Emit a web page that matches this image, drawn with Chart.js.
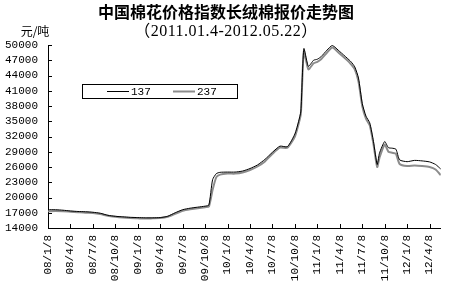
<!DOCTYPE html>
<html>
<head>
<meta charset="utf-8">
<script src="https://cdn.jsdelivr.net/npm/chart.js@4/dist/chart.umd.min.js"></script>
<style>
  html, body { margin: 0; padding: 0; background: #fff; }
  #wrap { width: 450px; height: 292px; position: relative; }
</style>
</head>
<body>
<div id="wrap"><canvas id="cotton"></canvas></div>
<script>
// 刻度标签（每季度一个）
const tickLabels = ['08/1/8', '08/4/8', '08/7/8', '08/10/8', '09/1/8', '09/4/8', '09/7/8', '09/10/8',
    '10/1/8', '10/4/8', '10/7/8', '10/10/8', '11/1/8', '11/4/8', '11/7/8', '11/10/8', '12/1/8', '12/4/8'];

// 自 08/1/8 起的月数
const months = [0, 1, 2, 3, 4, 5, 6, 7, 8, 9, 10, 11, 12, 13, 14, 15, 16, 17, 18, 19, 20, 21,
    21.5, 22, 22.5, 23, 24, 25, 26, 27, 28, 29, 30, 31, 32, 33,
    33.5, 33.8, 34.2, 34.8, 35.5, 36, 36.5, 37.3, 38,
    39, 40, 40.5, 41, 41.5, 42, 42.5, 43, 43.5, 44, 44.3,
    45, 45.5, 46, 46.5, 47, 48, 49, 50, 51, 51.8, 52.5];

const s137 = [17600, 17600, 17500, 17350, 17250, 17200, 17100, 16900, 16500, 16300, 16200, 16100, 16050, 16000, 16000, 16050, 16300, 17000, 17600, 17900, 18100, 18300,
    18500, 23500, 24700, 24950, 25000, 25000, 25200, 25700, 26400, 27500, 28900, 30100, 30000, 32500,
    35000, 37000, 49300, 45800, 47000, 47200, 47700, 49000, 49900,
    48700, 47400, 46700, 45700, 43500, 38500, 36000, 34700, 31000, 26500, 28700,
    31000, 29800, 29700, 29500, 27400, 27050, 27300, 27200, 27000, 26500, 25600];

const s237 = [17300, 17350, 17300, 17200, 17100, 17000, 16950, 16750, 16400, 16200, 16050, 15950, 15900, 15850, 15900, 15950, 16200, 16800, 17400, 17700, 17900, 18100,
    18200, 21500, 24000, 24500, 24700, 24700, 24900, 25400, 26100, 27100, 28600, 29800, 29800, 32000,
    34500, 36500, 48800, 45200, 46400, 46700, 47200, 48500, 49500,
    48300, 47000, 46200, 45200, 42800, 38000, 35500, 34200, 30500, 26000, 27800,
    30400, 29000, 28800, 28600, 26600, 26200, 26300, 26200, 26000, 25500, 24400];

const labelFont = "'Liberation Mono', monospace";
const cjkFont = "'Noto Sans CJK SC', sans-serif";

// 标题、单位、图例、内向刻度
const decor = {
    id: 'decor',
    afterDraw(chart) {
        const ctx = chart.ctx;
        const a = chart.chartArea;
        const { x, y } = chart.scales;
        ctx.save();

        // 内向刻度线
        ctx.strokeStyle = '#000';
        ctx.lineWidth = 1;
        ctx.beginPath();
        y.ticks.forEach((t, i) => {
            const py = Math.round(y.getPixelForTick(i)) + 0.5;
            ctx.moveTo(a.left, py);
            ctx.lineTo(a.left + 4, py);
        });
        x.ticks.forEach((t, i) => {
            const px = Math.round(x.getPixelForTick(i)) + 0.5;
            ctx.moveTo(px, a.bottom);
            ctx.lineTo(px, a.bottom - 4);
        });
        ctx.stroke();

        // 标题
        ctx.fillStyle = '#000';
        ctx.textAlign = 'center';
        ctx.textBaseline = 'middle';
        ctx.font = 'bold 16px ' + cjkFont;
        ctx.fillText('中国棉花价格指数长绒棉报价走势图', 226, 12);
        ctx.font = "16px 'Liberation Serif', " + cjkFont;
        ctx.letterSpacing = '0.5px';
        ctx.fillText('（2011.01.4-2012.05.22）', 226, 32);
        ctx.letterSpacing = '0px';

        ctx.font = '12px ' + cjkFont;
        ctx.fillText('元/吨', 35, 31);

        // 图例
        ctx.strokeStyle = '#000';
        ctx.strokeRect(82.5, 84.5, 155, 14);
        ctx.font = '11px ' + labelFont;
        ctx.textAlign = 'left';
        const items = [[107, chart.data.datasets[0]], [173, chart.data.datasets[1]]];
        items.forEach(([lx, ds]) => {
            ctx.strokeStyle = ds.borderColor;
            ctx.lineWidth = ds.borderWidth;
            ctx.beginPath();
            ctx.moveTo(lx, 91.5);
            ctx.lineTo(lx + 22, 91.5);
            ctx.stroke();
            ctx.fillStyle = '#000';
            ctx.fillText(ds.label, lx + 24, 92);
        });
        ctx.restore();
    }
};

new Chart(document.getElementById('cotton'), {
    type: 'line',
    data: {
        datasets: [
            {
                label: '137',
                data: months.map((m, i) => ({ x: m, y: s137[i] })),
                borderColor: '#000',
                borderWidth: 1,
                pointRadius: 0,
                tension: 0.2
            },
            {
                label: '237',
                data: months.map((m, i) => ({ x: m, y: s237[i] })),
                borderColor: '#8c8c8c',
                borderWidth: 2,
                pointRadius: 0,
                tension: 0.2
            }
        ]
    },
    options: {
        responsive: true,
        maintainAspectRatio: false,
        animation: false,
        layout: { padding: { top: 45, right: 8, left: 2, bottom: 0 } },
        plugins: {
            legend: { display: false },
            tooltip: { enabled: false }
        },
        scales: {
            x: {
                type: 'linear',
                min: 0,
                max: 52.5,
                grid: { display: false, drawTicks: false },
                border: { display: true, color: '#000' },
                afterBuildTicks: (scale) => {
                    scale.ticks = tickLabels.map((_, i) => ({ value: i * 3 }));
                },
                afterFit: (scale) => { scale.height = 64; },
                ticks: {
                    autoSkip: false,
                    minRotation: 90,
                    maxRotation: 90,
                    padding: 7,
                    color: '#000',
                    font: { family: labelFont, size: 11 },
                    callback: (v) => tickLabels[Math.round(v / 3)]
                }
            },
            y: {
                min: 14000,
                max: 50000,
                grid: { display: false, drawTicks: false },
                border: { display: true, color: '#000' },
                afterFit: (scale) => { scale.width = 46; },
                ticks: {
                    stepSize: 3000,
                    autoSkip: false,
                    padding: 10,
                    color: '#000',
                    font: { family: labelFont, size: 11 },
                    callback: (v) => String(v)
                }
            }
        }
    },
    plugins: [decor]
});
</script>
</body>
</html>
